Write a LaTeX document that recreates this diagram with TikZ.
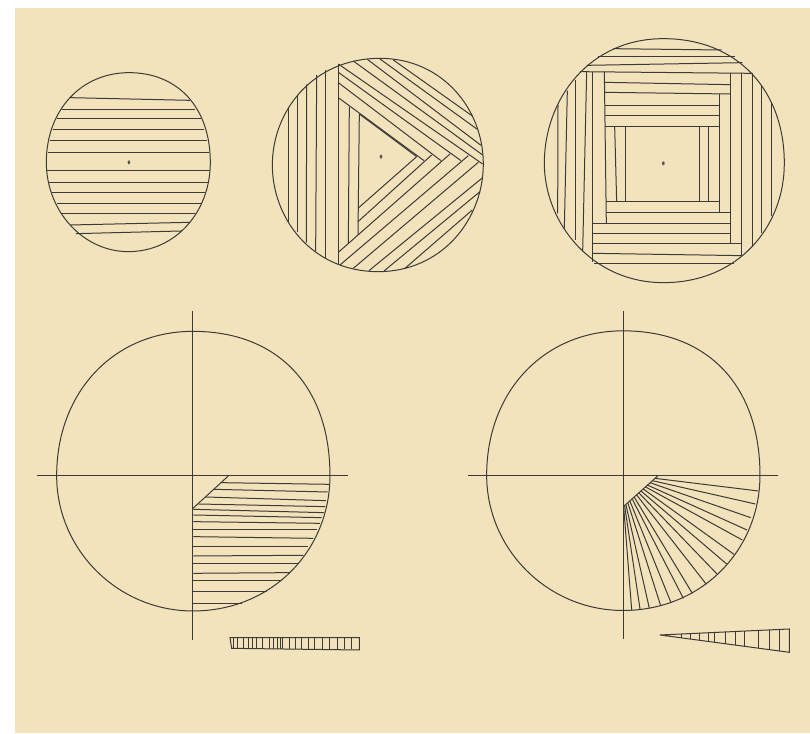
\documentclass[tikz,border=0pt]{standalone}
\definecolor{sandbg}{HTML}{F3E3BD}
\definecolor{inkline}{HTML}{3C3A36}
\tikzset{
    outline/.style={inkline, line width=1pt},
    hatch/.style={inkline, line width=1pt},
    axis/.style={inkline, line width=1pt},
    centerdot/.style={fill=inkline!85}
}
\begin{document}
\begin{tikzpicture}[x=1pt, y=-1pt]
    \useasboundingbox (0,0) rectangle (810,733);
    \fill[sandbg] (15,8) rectangle (810,733);

    % striped disc
    \begin{scope}[scale=0.3333]
        \draw[outline] (387,218) .. controls (535,218) and (631,324) .. (631,487)
            .. controls (631,638) and (525,755) .. (385,755)
            .. controls (250,755) and (139,634) .. (139,487)
            .. controls (139,331) and (243,218) .. (387,218) -- cycle;
        \foreach \xa/\ya/\xb/\yb in {210/293/570/301, 186/328/586/328, 171/357/602/357, 158/390/612/390,
            150/421/622/421, 143/457/628/457, 141/513/630/513, 147/548/623/548, 156/579/614/579,
            170/611/602/611, 182/640/585/640, 212/675/570/667, 228/701/545/693}
            \draw[hatch] (\xa,\ya) -- (\xb,\yb);
        \fill[centerdot] (387,487) ellipse (4 and 6);
    \end{scope}

    % triangle spiral
    \begin{scope}[shift={(260,40)}, scale=0.3333]
        \draw[outline] (360,55) .. controls (546,55) and (670,206) .. (670,372)
            .. controls (670,540) and (544,695) .. (355,695)
            .. controls (155,695) and (37,535) .. (37,375)
            .. controls (37,215) and (157,55) .. (360,55) -- cycle;
        % verticals
        \foreach \xa/\ya/\xb/\yb in {85/200/85/548, 112/168/112/575, 140/133/139/608, 170/105/167/635,
            197/90/197/658, 235/72/235/673, 268/200/265/610, 298/222/294/585}
            \draw[hatch] (\xa,\ya) -- (\xb,\yb);
        % going down right
        \foreach \xa/\ya/\xb/\yb in {298/222/470/350, 235/173/492/362, 235/128/543/362, 235/97/603/362,
            235/72/668/372, 280/63/668/345, 322/58/663/316, 360/57/652/268, 400/60/637/228}
            \draw[hatch] (\xa,\ya) -- (\xb,\yb);
        % going up right
        \foreach \xa/\ya/\xb/\yb in {294/505/470/350, 294/545/515/345, 235/637/570/342, 240/675/625/347,
            280/685/655/367, 327/692/668/413, 372/693/660/455, 435/685/637/510}
            \draw[hatch] (\xa,\ya) -- (\xb,\yb);
        \fill[centerdot] (363,350) ellipse (4 and 6);
    \end{scope}

    % square spiral
    \begin{scope}[shift={(535,30)}, scale=0.3333]
        \draw[outline] (385,26) .. controls (610,26) and (748,183) .. (748,400)
            .. controls (748,590) and (610,758) .. (385,758)
            .. controls (171,758) and (28,579) .. (28,400)
            .. controls (28,206) and (164,26) .. (385,26) -- cycle;
        % horizontals
        \foreach \xa/\ya/\xb/\yb in {235/56/560/60, 190/79/600/79, 155/106/622/98, 135/125/652/130,
            208/157/586/164, 208/187/586/192, 210/227/553/227, 210/257/553/257, 210/289/553/289,
            214/515/553/515, 214/548/586/548, 172/580/586/580, 172/611/586/611, 172/642/621/642,
            172/670/621/677, 178/700/597/700}
            \draw[hatch] (\xa,\ya) -- (\xb,\yb);
        % verticals
        \foreach \xa/\ya/\xb/\yb in {69/225/68/550, 97/182/88/595, 120/150/120/630, 155/125/143/665,
            172/125/172/695, 208/125/214/580, 239/289/245/515, 271/289/271/515, 495/289/495/515,
            521/289/521/515, 553/193/553/548, 586/130/586/642, 621/130/621/680, 654/130/654/650,
            680/165/680/610, 711/220/711/558}
            \draw[hatch] (\xa,\ya) -- (\xb,\yb);
        \fill[centerdot] (385,400) ellipse (4 and 6);
    \end{scope}

    \def\bigoutline{(489,34) .. controls (744,34) and (900,199) .. (900,467)
        .. controls (900,692) and (725,873) .. (489,873)
        .. controls (264,873) and (80,690) .. (80,467)
        .. controls (80,216) and (252,34) .. (489,34) -- cycle}

    % hatched quarter
    \begin{scope}[shift={(30,320)}, scale=0.3333]
        \draw[outline] \bigoutline;
        \draw[axis] (489,-27) -- (489,960);
        \draw[axis] (22,467) -- (955,467);
        \draw[hatch] (489,565) -- (596,467);
        \foreach \xa/\ya/\xb/\yb in {573/488/898/493, 552/508/893/516, 527/531/888/542, 505/552/886/560,
            490/568/882/578, 490/585/875/593, 490/605/870/610, 490/628/862/628, 490/650/850/655,
            490/680/835/680, 490/708/820/706, 490/730/803/730, 490/760/780/758, 490/782/757/782,
            490/816/710/816, 490/852/635/852}
            \draw[hatch] (\xa,\ya) -- (\xb,\yb);
    \end{scope}

    % strip below the hatched quarter
    \begin{scope}[shift={(180,465)}, scale=0.3333]
        \draw[hatch] (150,518) -- (538,518) -- (538,555) -- (155,550) -- cycle;
        \foreach \xa in {162,172,190,205,218,229,247,270,280,292,302,308,330,347,365,385,405,428,450,472,495,515}
            \draw[hatch] (\xa,518) -- (\xa,552);
    \end{scope}

    % fan quarter
    \begin{scope}[shift={(460,319.5)}, scale=0.3333]
        \draw[outline] \bigoutline;
        \draw[axis] (490,-27) -- (490,960);
        \draw[axis] (24,467) -- (955,467);
    \end{scope}
    \begin{scope}[shift={(610,465)}, scale=0.3333]
        \draw[hatch] (40,125) -- (143,33);
        \foreach \xa/\ya/\xb/\yb in {135/40/445/78, 127/47/436/117, 120/53/422/158, 112/60/411/195,
            107/66/397/225, 100/72/372/268, 93/78/350/297, 87/84/322/328, 80/90/289/358, 73/97/247/385,
            67/103/220/400, 60/109/183/413, 54/115/152/422, 48/120/118/430, 44/123/90/432, 41/125/65/435}
            \draw[hatch] (\xa,\ya) -- (\xb,\yb);

        % wedge below the fan
        \draw[hatch] (150,510) -- (538,492) -- (538,562) -- cycle;
        \foreach \xa in {215,240,268,295,313,345,377,405,445,478,510} {
            \pgfmathsetmacro{\ytop}{510-(\xa-150)*0.0464}
            \pgfmathsetmacro{\ybot}{510+(\xa-150)*0.134}
            \draw[hatch] (\xa,\ytop) -- (\xa,\ybot);
        }
    \end{scope}
\end{tikzpicture}
\end{document}
